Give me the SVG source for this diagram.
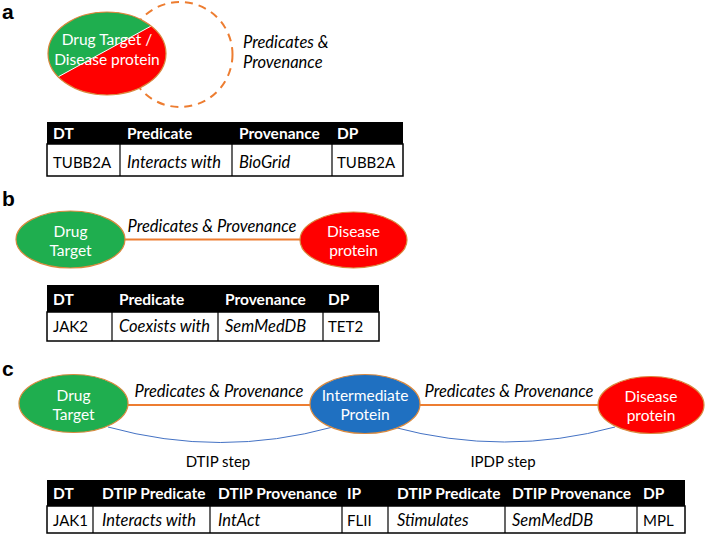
<svg xmlns="http://www.w3.org/2000/svg" width="708" height="535" viewBox="0 0 708 535">
<style>
.lbl{font-family:"Liberation Sans",Arial,sans-serif;font-weight:bold;font-size:21px;fill:#000}
.nt{font-family:Lato,"Open Sans",sans-serif;font-size:15.5px;fill:#fff;text-anchor:middle}
.it{font-family:Lato,"Open Sans",sans-serif;font-size:16.5px;font-style:italic;fill:#000}
.st{font-family:Lato,"Open Sans",sans-serif;font-size:15px;fill:#000;text-anchor:middle}
.th{font-family:Lato,"Open Sans",sans-serif;font-size:15.5px;font-weight:bold;fill:#fff}
.td{font-family:Lato,"Open Sans",sans-serif;font-size:15px;fill:#000}
.tdi{font-family:Lato,"Open Sans",sans-serif;font-size:16.5px;font-style:italic;fill:#000}
.hd{fill:#000}
.row{fill:#fff;stroke:#000;stroke-width:1.5}
.sep{stroke:#000;stroke-width:1.2}
.node{stroke:#d9893e;stroke-width:1.2}
.edge{stroke:#ed7d31;stroke-width:2;fill:none}
.arc{stroke:#4472c4;stroke-width:1;fill:none}
</style>
<defs>
<clipPath id="clipA"><ellipse cx="107" cy="53.5" rx="59" ry="41.5"/></clipPath>
</defs>
<rect width="708" height="535" fill="#fff"/>

<!-- Section a -->
<text class="lbl" x="2" y="19">a</text>
<g id="loop-a">
<circle cx="180" cy="54.5" r="52.5" fill="none" stroke="#ed7d31" stroke-width="2" stroke-dasharray="8,6"/>
</g>
<g id="node-a">
<ellipse cx="107" cy="53.5" rx="59" ry="41.5" fill="#ff0000"/>
<polygon clip-path="url(#clipA)" points="40,0 175,0 175,13 40,86.8" fill="#1fae4f"/>
<line clip-path="url(#clipA)" x1="175" y1="13" x2="40" y2="86.8" stroke="#fff" stroke-width="1"/>
<ellipse cx="107" cy="53.5" rx="59" ry="41.5" fill="none" class="node"/>
<text class="nt" x="107" y="45">Drug Target /</text>
<text class="nt" x="107" y="65">Disease protein</text>
</g>
<text class="it" x="243" y="48">Predicates &amp;</text>
<text class="it" x="243" y="68">Provenance</text>

<g id="table-a">
<rect class="hd" x="47" y="122" width="356" height="22"/>
<rect class="row" x="47" y="144" width="356" height="32"/>
<line class="sep" x1="120" y1="144" x2="120" y2="176"/>
<line class="sep" x1="232" y1="144" x2="232" y2="176"/>
<line class="sep" x1="332" y1="144" x2="332" y2="176"/>
<text class="th" x="53" y="139">DT</text>
<text class="th" x="127" y="139">Predicate</text>
<text class="th" x="239" y="139">Provenance</text>
<text class="th" x="337" y="139">DP</text>
<text class="td" x="53" y="168">TUBB2A</text>
<text class="tdi" x="127" y="168">Interacts with</text>
<text class="tdi" x="239" y="168">BioGrid</text>
<text class="td" x="337" y="168">TUBB2A</text>
</g>

<!-- Section b -->
<text class="lbl" x="2" y="206">b</text>
<g id="connectors-b">
<line class="edge" x1="125" y1="239.5" x2="300" y2="239.5"/>
<text class="it" x="212" y="232" text-anchor="middle">Predicates &amp; Provenance</text>
</g>
<g id="node-b-dt">
<ellipse class="node" cx="70.5" cy="239.5" rx="54.5" ry="28.5" fill="#1fae4f"/>
<text class="nt" x="70.5" y="237">Drug</text>
<text class="nt" x="70.5" y="256">Target</text>
</g>
<g id="node-b-dp">
<ellipse class="node" cx="353.5" cy="240" rx="53.5" ry="28" fill="#ff0000"/>
<text class="nt" x="353.5" y="237">Disease</text>
<text class="nt" x="353.5" y="256">protein</text>
</g>
<g id="table-b">
<rect class="hd" x="47" y="285" width="332" height="27"/>
<rect class="row" x="47" y="312" width="332" height="29"/>
<line class="sep" x1="112" y1="312" x2="112" y2="341"/>
<line class="sep" x1="218" y1="312" x2="218" y2="341"/>
<line class="sep" x1="323" y1="312" x2="323" y2="341"/>
<text class="th" x="53" y="305">DT</text>
<text class="th" x="119" y="305">Predicate</text>
<text class="th" x="225" y="305">Provenance</text>
<text class="th" x="328" y="305">DP</text>
<text class="td" x="53" y="332">JAK2</text>
<text class="tdi" x="119" y="332">Coexists with</text>
<text class="tdi" x="225" y="332">SemMedDB</text>
<text class="td" x="328" y="332">TET2</text>
</g>

<!-- Section c -->
<text class="lbl" x="2" y="376">c</text>
<g id="connectors-c">
<line class="edge" x1="128" y1="405" x2="310" y2="405"/>
<line class="edge" x1="420" y1="405" x2="599" y2="405"/>
<path class="arc" d="M108,427 Q220,458 333,427"/>
<path class="arc" d="M393,427 Q505,457 615,427"/>
<text class="it" x="219" y="397" text-anchor="middle">Predicates &amp; Provenance</text>
<text class="it" x="509" y="397" text-anchor="middle">Predicates &amp; Provenance</text>
<text class="st" x="218" y="467">DTIP step</text>
<text class="st" x="503" y="467">IPDP step</text>
</g>
<g id="node-c-dt">
<ellipse class="node" cx="73.5" cy="403.5" rx="54.5" ry="29" fill="#1fae4f"/>
<text class="nt" x="73.5" y="401">Drug</text>
<text class="nt" x="73.5" y="420">Target</text>
</g>
<g id="node-c-ip">
<ellipse class="node" cx="365" cy="404" rx="55" ry="29.5" fill="#1f70c1"/>
<text class="nt" x="365" y="401">Intermediate</text>
<text class="nt" x="365" y="420">Protein</text>
</g>
<g id="node-c-dp">
<ellipse class="node" cx="651" cy="405" rx="53" ry="28.5" fill="#ff0000"/>
<text class="nt" x="651" y="402">Disease</text>
<text class="nt" x="651" y="421">protein</text>
</g>
<g id="table-c">
<rect class="hd" x="47" y="480" width="638" height="26"/>
<rect class="row" x="47" y="506" width="638" height="27"/>
<line class="sep" x1="93" y1="506" x2="93" y2="533"/>
<line class="sep" x1="210" y1="506" x2="210" y2="533"/>
<line class="sep" x1="342" y1="506" x2="342" y2="533"/>
<line class="sep" x1="388" y1="506" x2="388" y2="533"/>
<line class="sep" x1="505" y1="506" x2="505" y2="533"/>
<line class="sep" x1="637" y1="506" x2="637" y2="533"/>
<text class="th" x="53" y="499">DT</text>
<text class="th" x="102" y="499">DTIP Predicate</text>
<text class="th" x="218" y="499">DTIP Provenance</text>
<text class="th" x="347" y="499">IP</text>
<text class="th" x="397" y="499">DTIP Predicate</text>
<text class="th" x="512" y="499">DTIP Provenance</text>
<text class="th" x="643" y="499">DP</text>
<text class="td" x="53" y="526">JAK1</text>
<text class="tdi" x="102" y="526">Interacts with</text>
<text class="tdi" x="218" y="526">IntAct</text>
<text class="td" x="347" y="526">FLII</text>
<text class="tdi" x="397" y="526">Stimulates</text>
<text class="tdi" x="512" y="526">SemMedDB</text>
<text class="td" x="643" y="526">MPL</text>
</g>
</svg>
